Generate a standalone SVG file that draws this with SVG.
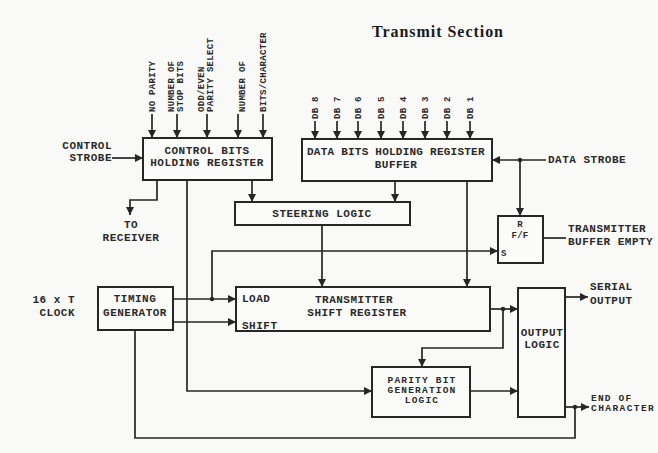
<svg xmlns="http://www.w3.org/2000/svg" width="658" height="453" viewBox="0 0 658 453">
<defs>
<marker id="ah" markerUnits="userSpaceOnUse" markerWidth="9" markerHeight="8" refX="8" refY="4" orient="auto">
<path d="M0,0 L8,4 L0,8 z" fill="#262626"/>
</marker>
<style>
.bx{fill:#fbfbf9;stroke:#262626;stroke-width:2}
.ln{fill:none;stroke:#262626;stroke-width:1.7}
.ar{marker-end:url(#ah)}
.t{font-family:"Liberation Mono",monospace;font-size:11px;font-weight:bold;fill:#2a2a2a;letter-spacing:0.5px}
.s{font-size:9px;letter-spacing:0.3px}
.c{font-size:9.5px;letter-spacing:1.2px}
.m{text-anchor:middle}
.e{text-anchor:end}
.ttl{font-family:"Liberation Serif",serif;font-size:16px;font-weight:bold;fill:#1a1a1a}
</style>
</defs>
<rect width="658" height="453" fill="#f9f9f7"/>

<text class="ttl" x="372" y="37" textLength="131">Transmit Section</text>

<g id="connectors">
<path class="ln ar" d="M112,158 H143"/>
<path class="ln ar" d="M152,114 V138"/>
<path class="ln ar" d="M177,114 V138"/>
<path class="ln ar" d="M207,114 V138"/>
<path class="ln ar" d="M238,114 V138"/>
<path class="ln ar" d="M263,114 V138"/>
<path class="ln ar" d="M315,121 V139"/>
<path class="ln ar" d="M337,121 V139"/>
<path class="ln ar" d="M358,121 V139"/>
<path class="ln ar" d="M381,121 V139"/>
<path class="ln ar" d="M403,121 V139"/>
<path class="ln ar" d="M425,121 V139"/>
<path class="ln ar" d="M447,121 V139"/>
<path class="ln ar" d="M470,121 V139"/>
<path class="ln ar" d="M157,180 V200 H130 V215"/>
<path class="ln ar" d="M252,180 V202"/>
<path class="ln ar" d="M187,180 V391 H372"/>
<path class="ln ar" d="M395,181 V202"/>
<path class="ln ar" d="M467,181 V287"/>
<path class="ln ar" d="M546,160 H492"/>
<path class="ln ar" d="M520,160 V216"/>
<path class="ln" d="M543,238 H566"/>
<path class="ln ar" d="M322,225 V287"/>
<path class="ln ar" d="M173,299 H236"/>
<path class="ln ar" d="M212,299 V251 H498"/>
<path class="ln ar" d="M173,322 H236"/>
<path class="ln ar" d="M490,309 H518"/>
<path class="ln ar" d="M503,309 V348 H422 V367"/>
<path class="ln ar" d="M470,391 H518"/>
<path class="ln ar" d="M565,297 H588"/>
<path class="ln ar" d="M565,407 H589"/>
<path class="ln" d="M135,330 V438 H575 V407"/>
<circle cx="520" cy="160" r="2.2" fill="#262626"/>
<circle cx="212" cy="299" r="2.2" fill="#262626"/>
<circle cx="503" cy="309" r="2.2" fill="#262626"/>
<circle cx="575" cy="407" r="2.2" fill="#262626"/>
</g>

<g id="control-inputs">
<text class="t s" transform="translate(155,112) rotate(-90)">NO PARITY</text>
<text class="t s" transform="translate(174,112) rotate(-90)">NUMBER OF</text>
<text class="t s" transform="translate(183,112) rotate(-90)">STOP BITS</text>
<text class="t s" transform="translate(204,112) rotate(-90)">ODD/EVEN</text>
<text class="t s" transform="translate(213,112) rotate(-90)">PARITY SELECT</text>
<text class="t s" transform="translate(245,112) rotate(-90)">NUMBER OF</text>
<text class="t s" transform="translate(266,112) rotate(-90)">BITS/CHARACTER</text>
</g>

<g id="data-inputs">
<text class="t s" transform="translate(318,119) rotate(-90)">DB 8</text>
<text class="t s" transform="translate(340,119) rotate(-90)">DB 7</text>
<text class="t s" transform="translate(361,119) rotate(-90)">DB 6</text>
<text class="t s" transform="translate(384,119) rotate(-90)">DB 5</text>
<text class="t s" transform="translate(406,119) rotate(-90)">DB 4</text>
<text class="t s" transform="translate(428,119) rotate(-90)">DB 3</text>
<text class="t s" transform="translate(450,119) rotate(-90)">DB 2</text>
<text class="t s" transform="translate(473,119) rotate(-90)">DB 1</text>
</g>

<g id="control-strobe">
<text class="t e" x="112" y="149">CONTROL</text>
<text class="t e" x="112" y="161">STROBE</text>
</g>

<g id="to-receiver">
<text class="t m" x="131" y="228">TO</text>
<text class="t m" x="131" y="241">RECEIVER</text>
</g>

<g id="control-bits-register">
<rect class="bx" x="143" y="138" width="129" height="42"/>
<text class="t m" x="207" y="154">CONTROL BITS</text>
<text class="t m" x="207" y="166">HOLDING REGISTER</text>
</g>

<g id="data-bits-register">
<rect class="bx" x="302" y="139" width="190" height="42"/>
<text class="t m" x="396" y="155" textLength="178">DATA BITS HOLDING REGISTER</text>
<text class="t m" x="396" y="168">BUFFER</text>
</g>

<g id="data-strobe">
<text class="t" x="548" y="163">DATA STROBE</text>
</g>

<g id="steering-logic">
<rect class="bx" x="235" y="202" width="175" height="23"/>
<text class="t m" x="322" y="217">STEERING LOGIC</text>
</g>

<g id="flip-flop">
<rect class="bx" x="498" y="216" width="45" height="47"/>
<text class="t s m" x="520" y="227">R</text>
<text class="t s m" x="520" y="238">F/F</text>
<text class="t s" x="501" y="256">S</text>
</g>

<g id="buffer-empty">
<text class="t" x="568" y="232">TRANSMITTER</text>
<text class="t" x="568" y="245">BUFFER EMPTY</text>
</g>

<g id="clock">
<text class="t e" x="75" y="303">16 x T</text>
<text class="t e" x="75" y="316">CLOCK</text>
</g>

<g id="timing-generator">
<rect class="bx" x="98" y="287" width="75" height="43"/>
<text class="t m" x="135" y="302">TIMING</text>
<text class="t m" x="135" y="316">GENERATOR</text>
</g>

<g id="shift-register">
<rect class="bx" x="236" y="287" width="254" height="44"/>
<text class="t" x="242" y="302">LOAD</text>
<text class="t" x="242" y="329">SHIFT</text>
<text class="t m" x="354" y="303">TRANSMITTER</text>
<text class="t m" x="357" y="316">SHIFT REGISTER</text>
</g>

<g id="parity-generator">
<rect class="bx" x="372" y="367" width="98" height="50"/>
<text class="t c m" x="422" y="383">PARITY BIT</text>
<text class="t c m" x="422" y="393">GENERATION</text>
<text class="t c m" x="422" y="403">LOGIC</text>
</g>

<g id="output-logic">
<rect class="bx" x="518" y="288" width="47" height="129"/>
<text class="t m" x="542" y="336">OUTPUT</text>
<text class="t m" x="542" y="348">LOGIC</text>
</g>

<g id="serial-output">
<text class="t" x="590" y="290">SERIAL</text>
<text class="t" x="590" y="304">OUTPUT</text>
</g>

<g id="end-of-character">
<text class="t c" x="591" y="401">END OF</text>
<text class="t c" x="591" y="411" textLength="64">CHARACTER</text>
</g>
</svg>
